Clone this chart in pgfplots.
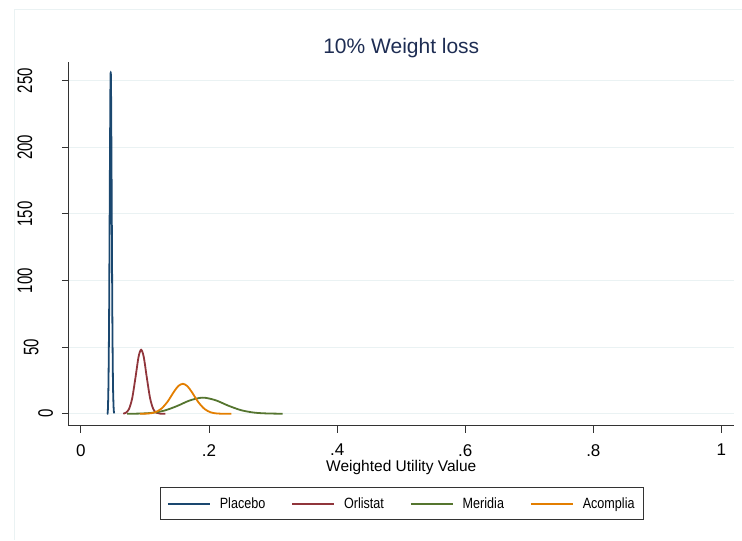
\documentclass[border=0pt]{standalone}
\usepackage{fontspec}
\setmainfont{Liberation Sans}
\usepackage{graphicx}
\usepackage{pgfplots}
\pgfplotsset{compat=1.18}
\definecolor{stnavy}{RGB}{26,71,111}
\definecolor{stmaroon}{RGB}{144,53,59}
\definecolor{stgreen}{RGB}{85,117,47}
\definecolor{storange}{RGB}{227,126,0}
\definecolor{gridc}{RGB}{234,242,243}
\definecolor{titlec}{RGB}{30,45,83}
% rotated y labels: lift the ink so shorter labels sit nearer the axis, as in the reference
\newcommand\yl[2]{\raisebox{#1pt}[0pt][0pt]{#2}}
% legend text is drawn a little taller than wide in the reference
\newcommand\legtxt[1]{\scalebox{1}[1.18]{#1}}

\begin{document}
\begin{tikzpicture}[x=1pt,y=1pt]
\path (0,0) rectangle (742,540);
\draw[gridc, line width=0.8pt] (14,0) -- (14,531) -- (742,531);
\begin{axis}[
    at={(69pt,114pt)}, anchor=south west,
    scale only axis, width=665pt, height=364pt,
    xmin=-0.0187, xmax=1.019, ymin=-9, ymax=264,
    axis x line=bottom, axis y line=left,
    axis line style={-, black!80, line width=1pt},
    xtick={0,0.2,0.4,0.6,0.8,1}, xticklabels={0,.2,.4,.6,.8,1},
    ytick={0,50,100,150,200,250},
    yticklabels={{\yl{0}{0}},{\yl{10.4}{50}},{\yl{14.8}{100}},{\yl{14.8}{150}},{\yl{14.8}{200}},{\yl{14.8}{250}}},
    tick align=outside, major tick length=7pt,
    tick style={black!80, line width=1pt},
    ymajorgrids, grid style={gridc, line width=1pt},
    xticklabel style={font=\fontsize{17}{17}\selectfont, yshift=-8pt},
    yticklabel style={font=\fontsize{15}{15}\selectfont, rotate=90, yscale=1.4, anchor=center, yshift=6.5pt},
    title={10\% Weight loss},
    title style={font=\fontsize{21}{21}\selectfont, text=titlec, at={(0.5,1)}, anchor=south, yshift=-5pt},
    xlabel={Weighted Utility Value},
    xlabel style={font=\fontsize{15.5}{15.5}\selectfont, at={(0.5,0)}, anchor=center, yshift=-42pt},
    legend columns=4,
    legend style={at={(0.5008,-0.214)}, anchor=center, draw=black!80, line width=0.8pt,
        font=\fontsize{12.6}{12.6}\selectfont, /tikz/every even column/.append style={column sep=24pt},
        inner xsep=7pt, inner ysep=8pt},
    legend image code/.code={\draw[#1] (0pt,0pt) -- (42pt,0pt); \path (49pt,0pt);},
]
\addplot[draw=stnavy, line width=1.8pt, smooth] coordinates {
 (0.0410,0.3) (0.0420,2.5) (0.0430,23.5) (0.0440,75.6) (0.0450,165) (0.0460,244)
 (0.0465,256) (0.0470,244) (0.0480,165) (0.0490,75.6) (0.0500,23.5) (0.0510,4.9) (0.0518,0.3)};
\addlegendentry{\legtxt{Placebo}}
\addplot[draw=stmaroon, line width=1.8pt, smooth] coordinates {
 (0.066,0.16) (0.070,0.74) (0.075,3.5) (0.080,11.6) (0.085,26.7) (0.090,42.8) (0.094,48)
 (0.098,42.8) (0.103,26.7) (0.108,11.6) (0.113,3.5) (0.118,0.74) (0.124,0.07) (0.132,0)};
\addlegendentry{\legtxt{Orlistat}}
\addplot[draw=stgreen, line width=1.8pt, smooth] coordinates {
 (0.072,0.02) (0.090,0.13) (0.110,0.66) (0.130,2.35) (0.150,5.8) (0.170,10.0) (0.190,12.1)
 (0.210,10.2) (0.230,6.1) (0.250,2.7) (0.270,0.9) (0.290,0.25) (0.315,0.03)};
\addlegendentry{\legtxt{Meridia}}
\addplot[draw=storange, line width=1.8pt, smooth] coordinates {
 (0.092,0.02) (0.105,0.2) (0.115,1.0) (0.125,3.6) (0.135,8.9) (0.145,16.4) (0.152,20.8) (0.159,22.5)
 (0.166,20.8) (0.173,16.4) (0.183,8.9) (0.193,3.6) (0.203,1.0) (0.213,0.2) (0.223,0.03) (0.235,0)};
\addlegendentry{\legtxt{Acomplia}}
\end{axis}
\end{tikzpicture}
\end{document}
